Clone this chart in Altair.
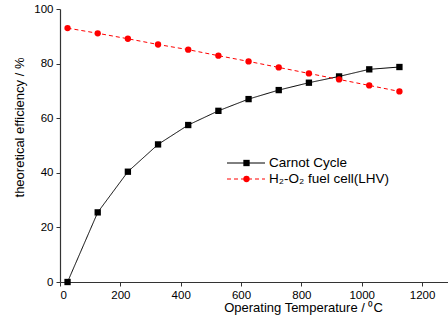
import altair as alt
import pandas as pd

temps = [25, 125, 225, 325, 425, 525, 625, 725, 825, 925, 1025, 1125]
carnot = [0.0, 25.5, 40.4, 50.4, 57.5, 62.7, 67.0, 70.3, 73.0, 75.3, 77.9, 78.75]
fuel_cell = [93.0, 91.1, 89.1, 87.0, 85.1, 82.9, 80.8, 78.6, 76.4, 74.2, 72.0, 69.8]
series_names = ["Carnot Cycle", "H₂-O₂ fuel cell(LHV)"]
series_colors = ["#000000", "#ff0000"]
series_shapes = ["square", "circle"]
series_dashes = [[1, 0], [4, 3]]

rows = []
for t, c in zip(temps, carnot):
    rows.append({"T": t, "eff": c, "series": series_names[0]})
for t, f in zip(temps, fuel_cell):
    rows.append({"T": t, "eff": f, "series": series_names[1]})
df = pd.DataFrame(rows)
legend_df = pd.DataFrame({"series": series_names})

FONT = "Liberation Sans"

color_scale = alt.Scale(domain=series_names, range=series_colors)
shape_scale = alt.Scale(domain=series_names, range=series_shapes)
dash_scale = alt.Scale(domain=series_names, range=series_dashes)

x_enc = alt.X(
    "T:Q",
    scale=alt.Scale(domain=[0, 1286], nice=False, zero=False),
    axis=alt.Axis(
        values=list(range(0, 1300, 100)),
        format="d",
        labelExpr="datum.value % 200 === 0 ? datum.label : ''",
        tickSize=alt.expr("datum.value % 200 === 0 ? 4 : 3"),
        title="Operating Temperature / ⁰C",
        titleX=243,
        titleY=19,
        titleBaseline="top",
        titleAlign="center",
        titleAnchor="start",
        labelPadding=3,
        grid=False,
    ),
)
y_enc = alt.Y(
    "eff:Q",
    scale=alt.Scale(domain=[0, 100], nice=False),
    axis=alt.Axis(
        values=list(range(0, 101, 10)),
        labelExpr="datum.value % 20 === 0 ? datum.label : ''",
        tickSize=alt.expr("datum.value % 20 === 0 ? 4 : 3"),
        title="theoretical efficiency / %",
        titleX=-41,
        titleY=118,
        titleAngle=-90,
        titleBaseline="middle",
        titleAlign="center",
        titleAnchor="start",
        labelPadding=3,
        grid=False,
    ),
)

lines = alt.Chart(df).mark_line(strokeWidth=1).encode(
    x=x_enc,
    y=y_enc,
    color=alt.Color("series:N", scale=color_scale, legend=None),
    strokeDash=alt.StrokeDash("series:N", scale=dash_scale, legend=None),
)
points = alt.Chart(df).mark_point(filled=True, size=40, opacity=1).encode(
    x="T:Q",
    y="eff:Q",
    color=alt.Color("series:N", scale=color_scale, legend=None),
    shape=alt.Shape("series:N", scale=shape_scale, legend=None),
)
plot = alt.layer(lines, points)

leg_y = alt.Y(
    "series:N",
    scale=alt.Scale(type="point", domain=series_names, range=[154, 170], padding=0),
    axis=None,
)
leg_rule = alt.Chart(legend_df).mark_rule(strokeWidth=1).encode(
    x=alt.value(167),
    x2=alt.value(205),
    y=leg_y,
    color=alt.Color("series:N", scale=color_scale, legend=None),
    strokeDash=alt.StrokeDash("series:N", scale=dash_scale, legend=None),
)
leg_pt = alt.Chart(legend_df).mark_point(filled=True, size=40, opacity=1).encode(
    x=alt.value(186.5),
    y=leg_y,
    color=alt.Color("series:N", scale=color_scale, legend=None),
    shape=alt.Shape("series:N", scale=shape_scale, legend=None),
)
leg_txt = alt.Chart(legend_df).mark_text(
    align="left", baseline="middle", font=FONT, fontSize=13.5, color="#000000"
).encode(
    x=alt.value(209),
    y=leg_y,
    text="series:N",
)
legend = alt.layer(leg_rule, leg_pt, leg_txt)

chart = (
    alt.layer(plot, legend)
    .resolve_scale(y="independent")
    .properties(
        width=388,
        height=273,
        padding={"left": 60, "top": 9, "right": 0, "bottom": 48},
        autosize=alt.AutoSizeParams(type="none"),
        background="white",
    )
    .configure_view(stroke=None)
    .configure_axis(
        labelFont=FONT,
        labelFontSize=11.5,
        labelColor="#000000",
        titleFont=FONT,
        titleFontSize=13,
        titleFontWeight="normal",
        titleColor="#000000",
        domainColor="#333333",
        tickColor="#333333",
        domainWidth=1.2,
        tickWidth=1,
    )
)

chart.save("out.html", embed_options={"renderer": "svg", "actions": False})
